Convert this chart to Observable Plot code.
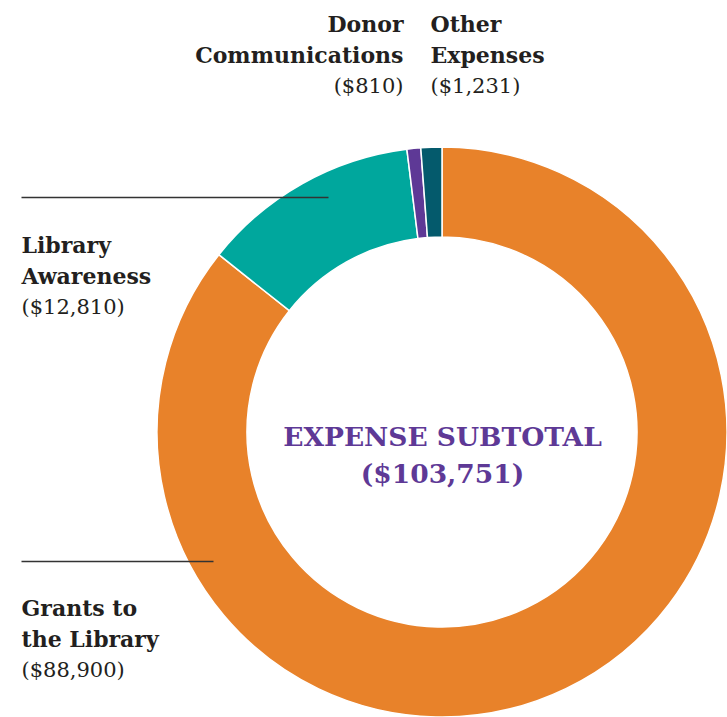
<!DOCTYPE html>
<html>
<head>
<meta charset="utf-8">
<script src="https://cdn.jsdelivr.net/npm/d3@7"></script>
<script src="https://cdn.jsdelivr.net/npm/@observablehq/plot@0.6"></script>
<style>
  html, body { margin: 0; padding: 0; background: #fff; }
  #chart svg { display: block; }
</style>
</head>
<body>
<div id="chart"></div>
<script>
// ---- data ----
const categories = ["Grants to the Library", "Library Awareness", "Donor Communications", "Other Expenses"];
const nameLabels = ["Grants to\nthe Library", "Library\nAwareness", "Donor\nCommunications", "Other\nExpenses"];
const values = [88900, 12810, 810, 1231];
const colors = ["#E8822A", "#00A79D", "#5E3996", "#045A6C"];
const centerTitle = "EXPENSE SUBTOTAL";

// ---- layout (pixel-space coordinates of the plot's x/y scales) ----
const donut = {cx: 442, cy: 432, outer: 285, inner: 195};
const labelLayout = [
  {x: 21, y: 646, anchor: "start"},
  {x: 21, y: 283, anchor: "start"},
  {x: 403, y: 62, anchor: "end"},
  {x: 430, y: 62, anchor: "start"}
];
const leaders = [
  {x1: 21, x2: 213, y: 561},
  {x1: 21, x2: 328, y: 197}
];

const fmt = d3.format(",");
const total = d3.sum(values);
const rows = categories.map((c, i) => ({
  category: c, value: values[i], name: nameLabels[i], amount: `($${fmt(values[i])})`,
  color: colors[i], ...labelLayout[i]
}));

const pie = d3.pie().sort(null).value(d => d.value).startAngle(0).endAngle(2 * Math.PI);
const arcs = pie(rows);

const serif = "'DejaVu Serif', 'Liberation Serif', serif";

const donutMark = (index, scales) => {
  const cx = scales.x(donut.cx), cy = scales.y(donut.cy);
  const ro = scales.x(donut.cx + donut.outer) - cx;
  const ri = scales.x(donut.cx + donut.inner) - cx;
  const arc = d3.arc().innerRadius(ri).outerRadius(ro);
  const g = d3.create("svg:g").attr("transform", `translate(${cx},${cy})`);
  g.selectAll("path").data(arcs).join("path")
    .attr("d", arc)
    .attr("fill", d => d.data.color)
    .attr("stroke", "#fff")
    .attr("stroke-width", 1.5)
    .attr("stroke-linejoin", "round");
  return g.node();
};

const labelMarks = ["start", "end"].flatMap(anchor => [
  Plot.text(rows, {
    filter: d => d.anchor === anchor,
    x: "x", y: "y", text: "name", textAnchor: anchor, lineAnchor: "bottom",
    fontSize: 22, fontWeight: "bold", lineHeight: 1.38, fill: "#231F20"
  }),
  Plot.text(rows, {
    filter: d => d.anchor === anchor,
    x: "x", y: d => d.y + 30, text: "amount", textAnchor: anchor, lineAnchor: "bottom",
    fontSize: 21, fill: "#231F20"
  })
]);

const chart = Plot.plot({
  width: 727,
  height: 717,
  margin: 0,
  x: {domain: [0, 727], range: [0, 727], axis: null},
  y: {domain: [0, 717], range: [0, 717], axis: null},
  style: {fontFamily: serif, background: "#fff"},
  marks: [
    donutMark,
    Plot.link(leaders, {x1: "x1", x2: "x2", y1: "y", y2: "y", stroke: "#333", strokeWidth: 1.3}),
    ...labelMarks,
    Plot.text([centerTitle], {
      x: donut.cx, y: 445, text: d => d, lineAnchor: "bottom",
      fontSize: 26.5, fontWeight: "bold", fill: "#5E3996"
    }),
    Plot.text([total], {
      x: donut.cx, y: 482, text: d => `($${fmt(d)})`, lineAnchor: "bottom",
      fontSize: 26.5, fontWeight: "bold", fill: "#5E3996"
    })
  ]
});

document.getElementById("chart").appendChild(chart);
</script>
</body>
</html>
